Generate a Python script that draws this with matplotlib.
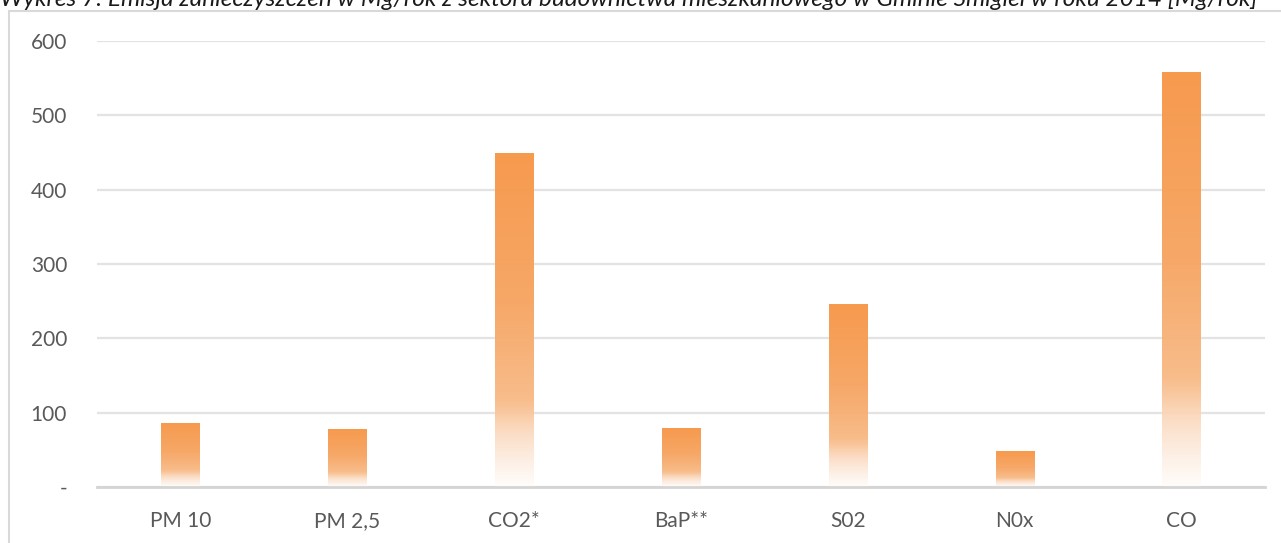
import numpy as np
import matplotlib
matplotlib.use("Agg")
import matplotlib.pyplot as plt
from matplotlib.colors import LinearSegmentedColormap
from matplotlib.patches import Rectangle

# Emission data [Mg/rok]
categories = ["PM 10", "PM 2,5", "CO2*", "BaP**", "S02", "N0x", "CO"]
emissions = [86, 78, 448, 79, 245, 48, 557]
y_ticks = [0, 100, 200, 300, 400, 500, 600]
y_tick_labels = ["-", "100", "200", "300", "400", "500", "600"]
title = ("Wykres 7: Emisja zanieczyszczeń w Mg/rok z sektora budownictwa "
         "mieszkaniowego w Gminie Śmigiel w roku 2014 [Mg/rok]")

plt.rcParams["font.family"] = ["Lato", "DejaVu Sans"]

W, H, DPI = 1281, 543, 100
fig = plt.figure(figsize=(W / DPI, H / DPI), dpi=DPI)
fig.patch.set_facecolor("white")

# chart frame
fig.add_artist(Rectangle((9 / W, -0.2), 1.2, 1.2 - 11 / H, transform=fig.transFigure,
                         fill=False, edgecolor="#D9D9D9", linewidth=1.5))

ax = fig.add_axes([97 / W, (H - 487) / H, 1168 / W, 446 / H])
ax.set_facecolor("none")

x = np.arange(len(categories))
bars = ax.bar(x, emissions, width=0.23, color="none", edgecolor="none", zorder=3)

# vertical orange-to-white gradient inside each bar
grad = LinearSegmentedColormap.from_list(
    "bar_grad",
    [(0.0, "#F79646"), (0.45, "#F6A461"), (0.74, "#F8BA86"),
     (0.84, "#FBDCC3"), (0.93, "#FDF0E6"), (1.0, "#FFFDFB")])
g = np.linspace(0, 1, 256).reshape(-1, 1)
for b in bars:
    x0, w, h = b.get_x(), b.get_width(), b.get_height()
    ax.imshow(g, cmap=grad, aspect="auto", extent=(x0, x0 + w, 0, h),
              origin="upper", zorder=3, alpha=0.96, interpolation="bilinear")

ax.set_xlim(-0.5, len(categories) - 0.5)
ax.set_ylim(0, 600)
ax.set_yticks(y_ticks)
ax.set_yticklabels(y_tick_labels)
ax.set_xticks(x)
ax.set_xticklabels(categories)

ax.yaxis.grid(True, color="#E3E3E3", linewidth=1.6, zorder=1)
ax.set_axisbelow(True)
for s in ("top", "right", "left"):
    ax.spines[s].set_visible(False)
ax.spines["bottom"].set_color("#D4D4D4")
ax.spines["bottom"].set_linewidth(2)
ax.spines["bottom"].set_zorder(4)

ax.tick_params(axis="both", length=0, colors="#595959", labelsize=15)
ax.tick_params(axis="y", pad=21.5)
ax.tick_params(axis="x", pad=17)

# title placed along the top edge
t = fig.text(0, 1 - 6 / H, title, ha="left", va="baseline", style="italic",
             color="#1a1a1a", fontsize=16)
fig.canvas.draw()
bb = t.get_window_extent()
t.set_fontsize(16 * 1262 / bb.width)

fig.savefig("out.png", dpi=DPI, facecolor="white")
